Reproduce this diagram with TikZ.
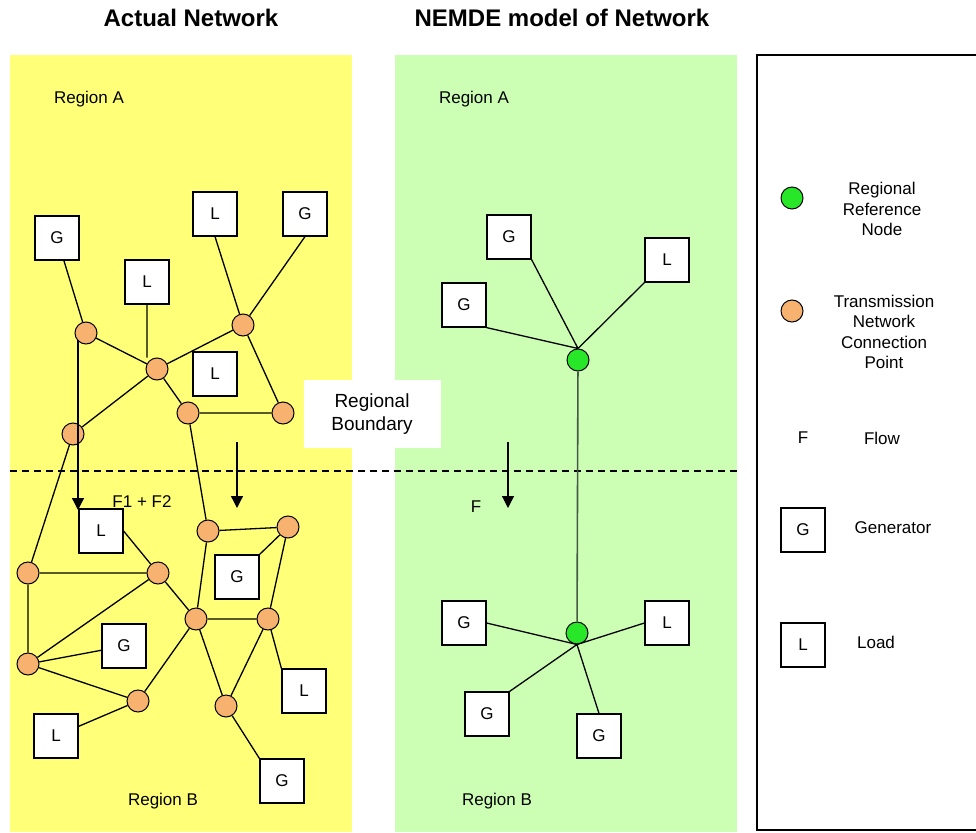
\documentclass[tikz,border=0pt]{standalone}
\usepackage{fontspec}
\setmainfont{Liberation Sans}
\usetikzlibrary{arrows.meta}
\definecolor{actualbg}{RGB}{255,255,120}
\definecolor{modelbg}{RGB}{204,255,180}
\definecolor{tnpfill}{RGB}{246,178,110}
\definecolor{rrnfill}{RGB}{40,230,40}
\definecolor{linkgrey}{RGB}{70,88,70}
\begin{document}
\begin{tikzpicture}[x=1pt,y=-1pt,
        every node/.style={font=\fontsize{17}{20.5}\selectfont},
        unit/.style={draw,fill=white,minimum size=44pt,inner sep=0pt,line width=1.2pt},
        tnp/.style={draw,circle,fill=tnpfill,minimum size=22pt,inner sep=0pt,line width=1pt},
        rrn/.style={draw,circle,fill=rrnfill,minimum size=22pt,inner sep=0pt,line width=1pt},
        link/.style={line width=1.3pt},
        flow/.style={line width=1.3pt,-{Triangle[length=12pt,width=12pt]}}]
        \useasboundingbox (0,0) rectangle (976,832);
        \fill[actualbg] (10,55) rectangle (352,832);
        \fill[modelbg] (395,55) rectangle (737,832);
        \draw[line width=1.2pt] (976,55) -| (757,830) -- (976,830);
        \draw[line width=1.2pt,dash pattern=on 7pt off 5pt] (10,471) -- (737,471);
        \node[font=\bfseries\fontsize{24}{28}\selectfont] (t1) at (191,18) {Actual Network};
        \node[font=\bfseries\fontsize{24}{28}\selectfont] (t2) at (562,18) {NEMDE model of Network};
        \node (ra1) at (89,99) {Region A};
        \node (ra2) at (474,99) {Region A};
        \node (rb1) at (163,801) {Region B};
        \node (rb2) at (497,801) {Region B};
        \node[fill=white,minimum width=137pt,minimum height=68pt,align=center,
            font=\fontsize{19}{23}\selectfont] (bnd) at (372,414) {Regional\\Boundary};
        % actual network
        \node[unit] (g1) at (57,238) {G};
        \node[unit] (l1) at (147,282) {L};
        \node[unit] (l2) at (215,214) {L};
        \node[unit] (g2) at (305,214) {G};
        \node[unit] (l3) at (215,374) {L};
        \node[unit] (l4) at (101,531) {L};
        \node[unit] (g3) at (124,646) {G};
        \node[unit] (l5) at (56,736) {L};
        \node[unit] (g4) at (237,577) {G};
        \node[unit] (l6) at (304,691) {L};
        \node[unit] (g5) at (282,781) {G};
        \foreach \n/\x/\y in {c1/86/333,c2/157/369,c3/243/325,c4/188/413,c5/283/413,
            c6/73/434,c7/28/573,c8/158/573,c9/28/664,c10/138/701,c11/196/619,
            c12/208/531,c13/288/527,c14/268/619,c15/226/706}
            \node[tnp] (\n) at (\x,\y) {};
        \draw[link] (g1) -- (c1) -- (c2) -- (c3) (l1.south) -- (l1.south |- c2.north)
            (g2.south) -- (c3) (l2.south) -- (c3) (c3) -- (c5) -- (c4) -- (c2) -- (c6)
            (c6) -- (c7) -- (c8) -- (c9) -- (c7) (g3) -- (c9) -- (c10) -- (l5)
            (c10) -- (c11) -- (c8) (l4.east) -- (c8) (c4) -- (c12) -- (c11)
            (c12) -- (c13) -- (c14) -- (c11) -- (c15) -- (c14) (g4.north east) -- (c13)
            (c14) -- (l6.north west) (c15) -- (g5.north west);
        \coordinate (f1s) at (78,340);
        \coordinate (f1e) at (78,510);
        \coordinate (f2s) at (237,442);
        \coordinate (f2e) at (237,508);
        \draw[flow] (f1s) -- (f1e);
        \draw[flow] (f2s) -- (f2e);
        \node (f12) at (142,502) {F1 + F2};
        % NEMDE model
        \node[unit] (g6) at (509,237) {G};
        \node[unit] (g7) at (464,305) {G};
        \node[unit] (l7) at (667,260) {L};
        \node[unit] (g8) at (464,623) {G};
        \node[unit] (l8) at (667,623) {L};
        \node[unit] (g9) at (487,714) {G};
        \node[unit] (g10) at (599,736) {G};
        \node[rrn] (r1) at (578,360) {};
        \node[rrn] (r2) at (577,633) {};
        \draw[line width=1.6pt,linkgrey] (r1) -- (r2);
        \draw[link] (g6.south east) -- (r1.north) (g7.south east) -- (r1.north)
            (l7.south west) -- (r1.north);
        \draw[link] (g8.east) -- (r2.south) (l8.west) -- (r2.south)
            (g9.north east) -- (r2.south) (g10.north) -- (r2.south);
        \coordinate (fs) at (508,442);
        \coordinate (fe) at (508,508);
        \draw[flow] (fs) -- (fe);
        \node (fl) at (476,507) {F};
        % legend
        \node[rrn] (krrn) at (792,198) {};
        \node[align=center] (krrnt) at (882,209) {Regional\\Reference\\Node};
        \node[tnp] (ktnp) at (792,311) {};
        \node[align=center] (ktnpt) at (884,332) {Transmission\\Network\\Connection\\Point};
        \node (kf) at (803,438) {F};
        \node (kft) at (882,438) {Flow};
        \node[unit] (kg) at (803,530) {G};
        \node (kgt) at (893,528) {Generator};
        \node[unit] (kl) at (803,645) {L};
        \node (klt) at (876,642) {Load};
    \end{tikzpicture}
\end{document}
